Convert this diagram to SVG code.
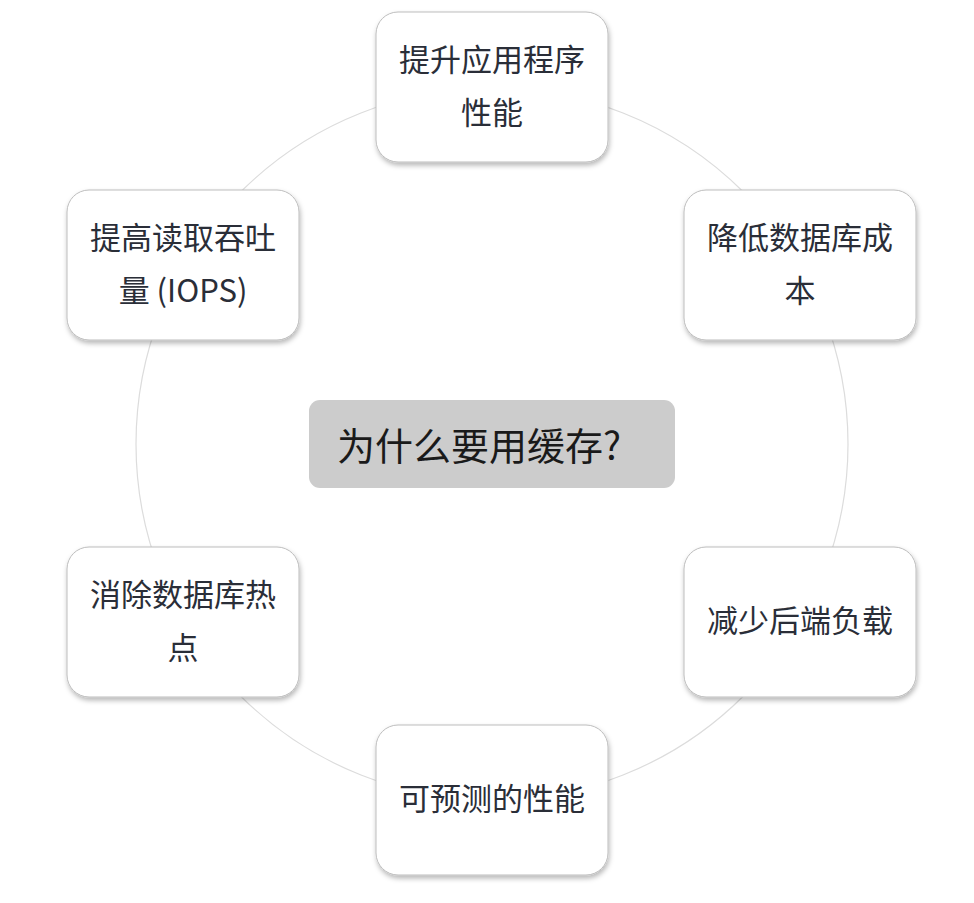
<svg xmlns="http://www.w3.org/2000/svg" width="974" height="903" viewBox="0 0 974 903">
<defs>
<filter id="sh" x="-10%" y="-10%" width="125%" height="130%">
<feDropShadow dx="1" dy="3" stdDeviation="2.5" flood-color="#000" flood-opacity="0.28"/>
</filter>
<style>
.box{fill:#fff;stroke:#bdbdbd;stroke-width:1;filter:url(#sh)}
.t{font-family:"Noto Sans CJK SC","Noto Sans",sans-serif;font-size:31px;fill:#2a2e38;text-anchor:middle}
.c{font-family:"Noto Sans CJK SC","Noto Sans",sans-serif;font-size:38px;fill:#1a1a1a}
</style>
</defs>
<rect width="974" height="903" fill="#fff"/>
<g id="connectors">
<circle cx="492" cy="444" r="356" fill="none" stroke="#dcdcdc" stroke-width="1.2"/>
</g>
<g id="center">
<rect x="309" y="400" width="366" height="88" rx="11" fill="#cccccc"/>
<text class="c" x="337" y="460">为什么要用缓存?</text>
</g>
<g id="n1">
<rect class="box" x="376" y="12" width="232" height="150" rx="22"/>
<text class="t" x="492" y="71">提升应用程序</text>
<text class="t" x="492" y="124">性能</text>
</g>
<g id="n2">
<rect class="box" x="684" y="190" width="232" height="150" rx="22"/>
<text class="t" x="800" y="249">降低数据库成</text>
<text class="t" x="800" y="302">本</text>
</g>
<g id="n3">
<rect class="box" x="684" y="547" width="232" height="150" rx="22"/>
<text class="t" x="800" y="632">减少后端负载</text>
</g>
<g id="n4">
<rect class="box" x="376" y="725" width="232" height="150" rx="22"/>
<text class="t" x="492" y="810">可预测的性能</text>
</g>
<g id="n5">
<rect class="box" x="67" y="547" width="232" height="150" rx="22"/>
<text class="t" x="183" y="606">消除数据库热</text>
<text class="t" x="183" y="659">点</text>
</g>
<g id="n6">
<rect class="box" x="67" y="190" width="232" height="150" rx="22"/>
<text class="t" x="183" y="249">提高读取吞吐</text>
<text class="t" x="183" y="302">量 (IOPS)</text>
</g>
</svg>
